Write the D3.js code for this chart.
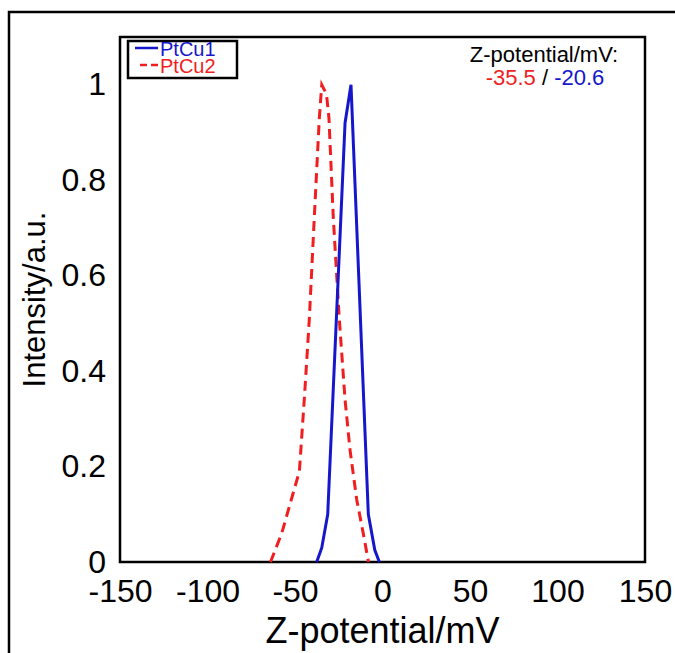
<!DOCTYPE html>
<html>
<head>
<meta charset="utf-8">
<script src="https://cdn.jsdelivr.net/npm/d3@7"></script>
<style>
  html, body { margin: 0; padding: 0; background: #fff; }
  svg { display: block; font-family: "Liberation Sans", Arial, sans-serif; }
</style>
</head>
<body>
<script>
// ---- data ----
const xTicks = [-150, -100, -50, 0, 50, 100, 150];
const xTickLabels = ["-150", "-100", "-50", "0", "50", "100", "150"];
const yTicks = [0, 0.2, 0.4, 0.6, 0.8, 1];
const yTickLabels = ["0", "0.2", "0.4", "0.6", "0.8", "1"];
const seriesNames = ["PtCu1", "PtCu2"];
const ptcu1X = [-37.6, -34.7, -31.3, -21.4, -18.0, -8.1, -4.4, -1.8];
const ptcu1Y = [0.0, 0.03, 0.10, 0.92, 1.0, 0.10, 0.025, 0.0];
const ptcu2X = [-64, -57.6, -47.5, -44.7, -41.8, -39.0, -36.1, -34.7, -32.0, -30.6, -28.1, -24.7, -21.4, -18.6, -14.7, -11.0, -8.0];
const ptcu2Y = [0.0, 0.06, 0.19, 0.34, 0.51, 0.72, 0.93, 1.0, 0.98, 0.93, 0.72, 0.51, 0.34, 0.236, 0.13, 0.06, 0.0];
const zetaValues = ["-35.5", "-20.6"];

const W = 675, H = 653;
const pL = 120, pR = 645, pT = 37, pB = 562;
const blue = "#1616cc", red = "#f01e1e";
const FONT = "Liberation Sans, Arial, sans-serif";

const svg = d3.select("body").append("svg").attr("width", W).attr("height", H);

// outer frame
svg.append("rect").attr("x", 9).attr("y", 12).attr("width", 700).attr("height", 700)
  .attr("fill", "none").attr("stroke", "#000").attr("stroke-width", 2.5);

const x = d3.scaleLinear().domain([-150, 150]).range([pL, pR]);
const y = d3.scaleLinear().domain([0, 1.1]).range([pB, pT]);

// axes
const xAxis = d3.axisBottom(x).tickValues(xTicks).tickSize(0).tickPadding(17)
  .tickFormat((d, i) => xTickLabels[i]);
const gx = svg.append("g").attr("transform", `translate(0,${pB})`).call(xAxis);
gx.select(".domain").remove();
gx.selectAll("text").attr("font-size", 32).attr("fill", "#000").attr("font-family", FONT);

const yAxis = d3.axisLeft(y).tickValues(yTicks).tickSize(0).tickPadding(14)
  .tickFormat((d, i) => yTickLabels[i]);
const gy = svg.append("g").attr("transform", `translate(${pL},0)`).call(yAxis);
gy.select(".domain").remove();
gy.selectAll("text").attr("font-size", 32).attr("fill", "#000").attr("font-family", FONT);

// plot box
svg.append("rect").attr("x", pL).attr("y", pT).attr("width", pR - pL).attr("height", pB - pT)
  .attr("fill", "none").attr("stroke", "#000").attr("stroke-width", 2.5);

// lines
const line = d3.line().x(d => x(d[0])).y(d => y(d[1]));
const s2 = ptcu2X.map((v, i) => [v, ptcu2Y[i]]);
const s1 = ptcu1X.map((v, i) => [v, ptcu1Y[i]]);
svg.append("path").datum(s2).attr("d", line).attr("fill", "none")
  .attr("stroke", red).attr("stroke-width", 3).attr("stroke-dasharray", "10,6");
svg.append("path").datum(s1).attr("d", line).attr("fill", "none")
  .attr("stroke", blue).attr("stroke-width", 3);

// axis titles
svg.append("text").attr("x", (pL + pR) / 2).attr("y", 643).attr("text-anchor", "middle")
  .attr("font-size", 36).text("Z-potential/mV");
svg.append("text").attr("transform", `translate(45,${(pT + pB) / 2}) rotate(-90)`)
  .attr("text-anchor", "middle").attr("font-size", 31).text("Intensity/a.u.");

// legend
const lg = svg.append("g");
lg.append("rect").attr("x", 128).attr("y", 41).attr("width", 109).attr("height", 37)
  .attr("fill", "#fff").attr("stroke", "#000").attr("stroke-width", 2.5);
const legColors = [blue, red];
const legDash = [null, "7,4"];
seriesNames.forEach((n, i) => {
  const yy = 48 + i * 17;
  lg.append("line").attr("x1", i ? 140 : 135).attr("x2", 158).attr("y1", yy).attr("y2", yy)
    .attr("stroke", legColors[i]).attr("stroke-width", 2.5).attr("stroke-dasharray", legDash[i]);
  lg.append("text").attr("x", 160).attr("y", yy + 8).attr("font-size", 20)
    .attr("fill", legColors[i]).text(n);
});

// annotation
svg.append("text").attr("x", 544).attr("y", 62).attr("text-anchor", "middle")
  .attr("font-size", 22).attr("fill", "#000").text("Z-potential/mV:");
const ann = svg.append("text").attr("x", 545).attr("y", 85).attr("text-anchor", "middle")
  .attr("font-size", 22);
ann.append("tspan").attr("fill", red).text(zetaValues[0]);
ann.append("tspan").attr("fill", "#000").text(" / ");
ann.append("tspan").attr("fill", blue).text(zetaValues[1]);
</script>
</body>
</html>
